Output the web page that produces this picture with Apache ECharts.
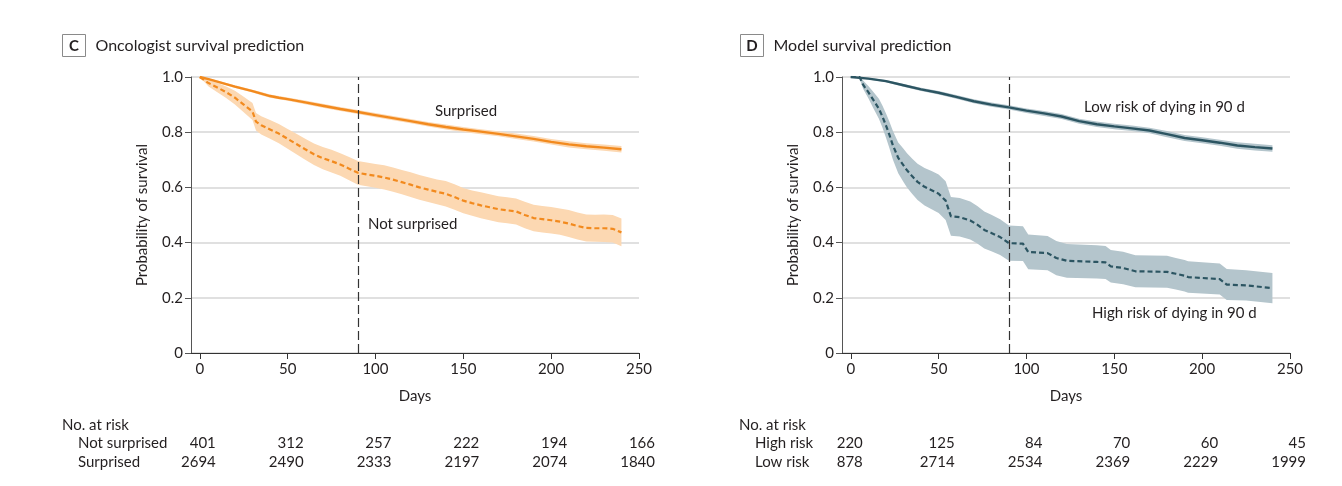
<!DOCTYPE html>
<html>
<head>
<meta charset="utf-8">
<script src="https://cdn.jsdelivr.net/npm/echarts@6/dist/echarts.min.js"></script>
<style>
html,body{margin:0;padding:0;background:#fff;}
#c{width:1342px;height:486px;}
</style>
</head>
<body>
<div id="c"></div>
<script>
// ---------- DATA ----------
const xTicks = [0, 50, 100, 150, 200, 250];
const yTicks = [0, 0.2, 0.4, 0.6, 0.8, 1.0];
const cutoffDay = 90;

// Panel C: Surprised
const surpDays = [0,5,10,15,20,25,30,35,40,45,50,60,70,80,90,100,110,120,130,140,150,160,170,180,190,200,210,220,230,240];
const surpEst  = [1.0,0.992,0.983,0.974,0.965,0.957,0.949,0.940,0.931,0.925,0.920,0.908,0.896,0.884,0.873,0.862,0.851,0.840,0.829,0.819,0.810,0.802,0.794,0.785,0.776,0.765,0.756,0.749,0.744,0.738];
const surpLo   = [1.0,0.989,0.979,0.970,0.960,0.952,0.944,0.934,0.925,0.919,0.914,0.901,0.889,0.877,0.866,0.854,0.843,0.832,0.821,0.810,0.801,0.793,0.785,0.775,0.766,0.755,0.745,0.738,0.733,0.726];
const surpHi   = [1.0,0.995,0.987,0.978,0.970,0.962,0.954,0.946,0.937,0.931,0.926,0.915,0.903,0.891,0.880,0.870,0.859,0.848,0.837,0.828,0.819,0.811,0.803,0.795,0.786,0.775,0.767,0.760,0.755,0.750];

// Panel C: Not surprised
const notDays = [0,5,10,15,20,25,30,32,35,40,45,50,55,60,65,70,75,80,85,90,95,100,105,110,115,120,125,130,135,140,145,150,155,160,165,170,175,180,185,190,195,200,205,210,215,220,225,230,235,240];
const notEst  = [1.0,0.978,0.962,0.945,0.925,0.900,0.875,0.838,0.825,0.810,0.795,0.776,0.757,0.738,0.720,0.706,0.695,0.683,0.668,0.653,0.647,0.642,0.636,0.628,0.619,0.610,0.600,0.592,0.584,0.577,0.565,0.552,0.543,0.535,0.528,0.521,0.517,0.513,0.500,0.489,0.485,0.481,0.476,0.469,0.460,0.453,0.452,0.452,0.450,0.437];
const notLo   = [1.0,0.966,0.945,0.924,0.900,0.872,0.844,0.806,0.792,0.776,0.760,0.740,0.720,0.700,0.681,0.666,0.654,0.642,0.626,0.610,0.604,0.599,0.592,0.584,0.575,0.565,0.555,0.547,0.539,0.531,0.519,0.506,0.497,0.488,0.481,0.474,0.470,0.466,0.452,0.441,0.437,0.433,0.428,0.420,0.411,0.404,0.403,0.402,0.400,0.387];
const notHi   = [1.0,0.990,0.979,0.966,0.950,0.928,0.906,0.870,0.858,0.844,0.830,0.812,0.794,0.776,0.759,0.746,0.736,0.724,0.710,0.696,0.690,0.685,0.680,0.672,0.663,0.655,0.645,0.637,0.629,0.623,0.611,0.598,0.589,0.582,0.575,0.568,0.564,0.560,0.548,0.537,0.533,0.529,0.524,0.518,0.509,0.502,0.501,0.502,0.500,0.487];

// Panel D: Low risk
const lowDays = [0,10,20,30,40,50,60,70,80,90,100,110,120,130,140,150,160,170,180,190,200,210,220,230,240];
const lowEst  = [1.0,0.994,0.985,0.970,0.955,0.943,0.928,0.912,0.900,0.890,0.878,0.868,0.857,0.840,0.829,0.821,0.814,0.806,0.793,0.779,0.771,0.762,0.752,0.746,0.741];
const lowLo   = [1.0,0.991,0.981,0.965,0.949,0.937,0.921,0.905,0.892,0.882,0.870,0.859,0.848,0.831,0.819,0.811,0.804,0.796,0.782,0.768,0.760,0.751,0.740,0.734,0.729];
const lowHi   = [1.0,0.997,0.989,0.975,0.961,0.949,0.935,0.919,0.908,0.898,0.886,0.877,0.866,0.849,0.839,0.831,0.824,0.816,0.804,0.790,0.782,0.773,0.764,0.758,0.753];

// Panel D: High risk
const highDays = [0,5,7,10,13,16,18,20,22,24,27,30,32,35,38,42,46,50,54,57,62,68,72,76,80,85,90,98,101,112,117,123,140,145,148,155,162,180,185,190,192,210,214,225,240];
const highEst  = [1.0,1.0,0.972,0.945,0.915,0.885,0.857,0.825,0.790,0.752,0.707,0.680,0.662,0.640,0.620,0.602,0.590,0.577,0.552,0.495,0.492,0.480,0.465,0.446,0.435,0.420,0.398,0.396,0.366,0.362,0.344,0.334,0.330,0.328,0.314,0.308,0.296,0.294,0.287,0.280,0.275,0.268,0.248,0.245,0.235];
const highLo   = [1.0,0.995,0.957,0.923,0.885,0.849,0.817,0.781,0.742,0.700,0.651,0.620,0.600,0.576,0.554,0.534,0.521,0.507,0.482,0.425,0.422,0.411,0.397,0.379,0.369,0.355,0.334,0.333,0.303,0.300,0.282,0.273,0.270,0.268,0.255,0.249,0.238,0.236,0.230,0.223,0.218,0.212,0.192,0.190,0.180];
const highHi   = [1.0,1.0,0.987,0.967,0.945,0.921,0.897,0.869,0.838,0.804,0.763,0.740,0.724,0.704,0.686,0.670,0.659,0.647,0.622,0.565,0.562,0.549,0.533,0.513,0.501,0.485,0.462,0.459,0.429,0.424,0.406,0.395,0.390,0.388,0.373,0.367,0.354,0.352,0.344,0.337,0.332,0.324,0.304,0.300,0.290];

// Numbers at risk
const riskLabelsC = ['Not surprised', 'Surprised'];
const riskC = [[401,312,257,222,194,166],[2694,2490,2333,2197,2074,1840]];
const riskLabelsD = ['High risk', 'Low risk'];
const riskD = [[220,125,84,70,60,45],[878,2714,2534,2369,2229,1999]];

// ---------- STYLE ----------
const FONT = 'Lato, sans-serif';
const TXT = '#231f20';
const ORANGE = '#F28A1E', ORANGE_BAND = '#FCD8B2';
const TEAL = '#2C5562', TEAL_BAND = '#B4C5CC';

const chart = echarts.init(document.getElementById('c'), null, {renderer: 'canvas'});

function xAxis(gi) {
  return {
    type: 'value', gridIndex: gi, min: -5, max: 250,
    name: 'Days', nameLocation: 'middle', nameGap: 36,
    nameTextStyle: {fontFamily: FONT, fontSize: 15, color: TXT},
    axisLine: {show: true, onZero: false, lineStyle: {color: '#333', width: 1}},
    axisTick: {show: true, length: 6, customValues: xTicks, lineStyle: {color: '#333'}},
    axisLabel: {customValues: xTicks, fontFamily: FONT, fontSize: 15, color: TXT, margin: 9},
    splitLine: {show: false}
  };
}
function yAxis(gi) {
  return {
    type: 'value', gridIndex: gi, min: 0, max: 1, interval: 0.2,
    name: 'Probability of survival', nameLocation: 'middle', nameGap: 41,
    nameTextStyle: {fontFamily: FONT, fontSize: 15, color: TXT},
    axisLine: {show: true, onZero: false, lineStyle: {color: '#555', width: 1}},
    axisTick: {show: true, length: 6, lineStyle: {color: '#555'}},
    axisLabel: {fontFamily: FONT, fontSize: 15, color: TXT, margin: 8,
      formatter: v => v === 0 ? '0' : v.toFixed(1)},
    splitLine: {show: true, lineStyle: {color: '#d6d6d6', width: 1.6}}
  };
}
function band(gi, days, lo, hi, color) {
  return {
    type: 'custom', xAxisIndex: gi, yAxisIndex: gi, data: [[0, 0]], silent: true, z: 1,
    renderItem: (params, api) => {
      const pts = [];
      for (let i = 0; i < days.length; i++) pts.push(api.coord([days[i], hi[i]]));
      for (let i = days.length - 1; i >= 0; i--) pts.push(api.coord([days[i], lo[i]]));
      return {type: 'polygon', shape: {points: pts}, style: {fill: color}};
    }
  };
}
function line(gi, days, est, color, dashed, withCut) {
  const s = {
    type: 'line', xAxisIndex: gi, yAxisIndex: gi, z: 3,
    data: days.map((d, i) => [d, est[i]]),
    showSymbol: false, symbol: 'none', silent: true,
    lineStyle: {color: color, width: dashed ? 2.2 : 2.4, type: dashed ? [5, 3] : 'solid'}
  };
  if (withCut) {
    s.markLine = {
      silent: true, symbol: 'none', label: {show: false},
      lineStyle: {color: '#333', type: [9, 4], width: 1.2},
      data: [{xAxis: cutoffDay}]
    };
  }
  return s;
}
function titleBox(x, letter, text) {
  return {
    type: 'group', left: x, top: 34,
    children: [
      {type: 'rect', shape: {x: 0, y: 0, width: 23, height: 22},
       style: {fill: '#fff', stroke: '#8a8a8a', lineWidth: 1}},
      {type: 'text', x: 11.5, y: 11.5, style: {text: letter, fontFamily: FONT, fontSize: 15, fontWeight: 'bold',
        fill: TXT, align: 'center', verticalAlign: 'middle'}},
      {type: 'text', x: 33, y: 11, style: {text: text, fontFamily: FONT, fontSize: 16,
        fill: TXT, align: 'left', verticalAlign: 'middle'}}
    ]
  };
}
function note(x, y, text) {
  return {type: 'text', x: x, y: y, style: {text: text, fontFamily: FONT, fontSize: 15, fill: TXT,
    align: 'left', verticalAlign: 'middle'}};
}

chart.setOption({
  animation: false,
  backgroundColor: '#fff',
  grid: [
    {left: 191, top: 77, width: 448, height: 276},
    {left: 842, top: 77, width: 448, height: 276}
  ],
  xAxis: [xAxis(0), xAxis(1)],
  yAxis: [yAxis(0), yAxis(1)],
  series: [
    band(0, notDays, notLo, notHi, ORANGE_BAND),
    band(0, surpDays, surpLo, surpHi, ORANGE_BAND),
    line(0, notDays, notEst, ORANGE, true, true),
    line(0, surpDays, surpEst, ORANGE, false, false),
    band(1, highDays, highLo, highHi, TEAL_BAND),
    band(1, lowDays, lowLo, lowHi, TEAL_BAND),
    line(1, highDays, highEst, TEAL, true, true),
    line(1, lowDays, lowEst, TEAL, false, false)
  ]
});

// Risk table and annotations, positioned with the axes' own scale
const g = [];
g.push(titleBox(62, 'C', 'Oncologist survival prediction'));
g.push(titleBox(740, 'D', 'Model survival prediction'));
g.push(note(435, 111, 'Surprised'));
g.push(note(368, 224, 'Not surprised'));
g.push(note(1084, 107, 'Low risk of dying in 90 d'));
g.push(note(1092, 313, 'High risk of dying in 90 d'));

function table(gi, headX, labels, rows, firstOffset) {
  g.push(note(headX, 425, 'No. at risk'));
  const rowY = [443, 462];
  labels.forEach((lab, r) => {
    g.push(note(headX + 16, rowY[r], lab));
    rows[r].forEach((v, i) => {
      const px = chart.convertToPixel({xAxisIndex: gi}, xTicks[i]) + (i === 0 ? firstOffset : 16);
      g.push({type: 'text', x: px, y: rowY[r], style: {text: String(v), fontFamily: FONT, fontSize: 15,
        fill: TXT, align: 'right', verticalAlign: 'middle'}});
    });
  });
}
table(0, 62, riskLabelsC, riskC, 16);
table(1, 739, riskLabelsD, riskD, 12);
chart.setOption({graphic: g});
</script>
</body>
</html>
